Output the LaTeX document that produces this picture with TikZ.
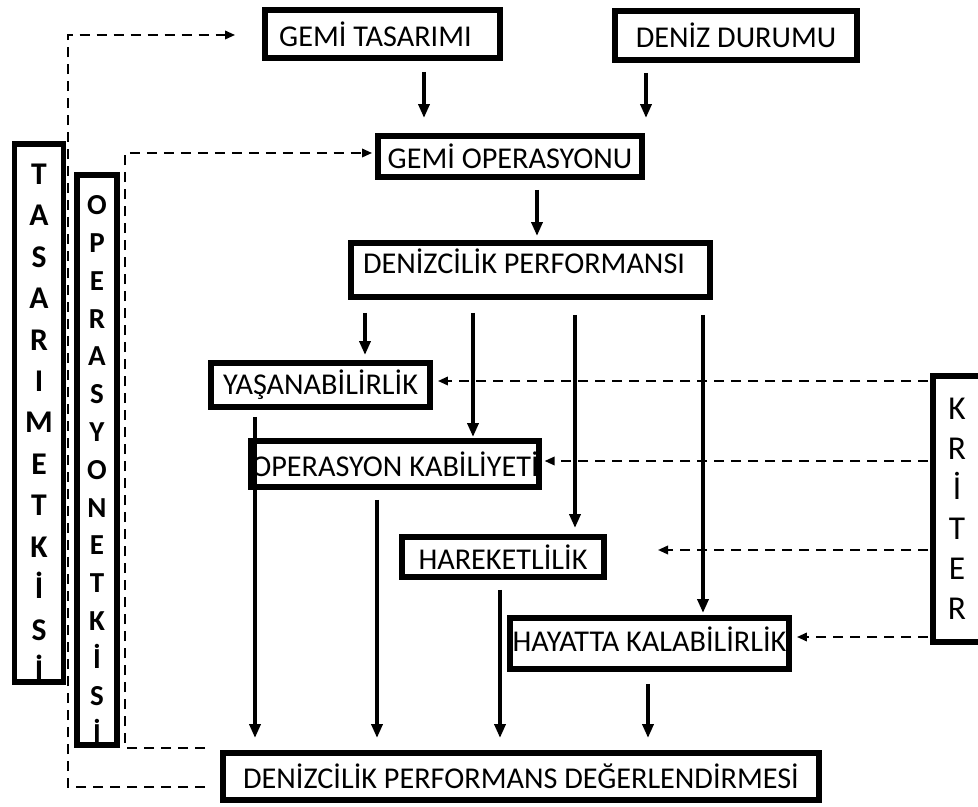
\documentclass[tikz,border=0pt]{standalone}
\usepackage{fontspec}
\setmainfont{Carlito}
\usetikzlibrary{arrows.meta}
\begin{document}
\begin{tikzpicture}[x=0.02cm,y=-0.02cm,
  box/.style={draw, line width=3.4pt, inner sep=0pt, font=\fontsize{17.2}{20}\selectfont},
  arr/.style={line width=2.5pt, -{Triangle[length=2.8mm,width=2.2mm]}},
  darr/.style={line width=1.1pt, dash pattern=on 2mm off 1.4mm, -{Triangle[length=2mm,width=1.7mm]}}]
\clip (0,0) rectangle (978,807);
% boxes
\node[box, minimum width=4.7cm, minimum height=0.96cm] (gt) at (382.5,34) {GEMİ TASARIMI\hspace*{2.8mm}};
\node[box, minimum width=4.84cm, minimum height=0.98cm] (dd) at (736,35.5) {DENİZ DURUMU};
\node[box, minimum width=5.28cm, minimum height=0.82cm] (go) at (510,156.5) {GEMİ OPERASYONU};
\node[box, minimum width=7.18cm, minimum height=1.08cm] (dp) at (530.5,270) {\raisebox{3.6mm}{DENİZCİLİK PERFORMANSI}\hspace*{2.6mm}};
\node[box, minimum width=4.38cm, minimum height=0.88cm] (ya) at (320.5,385) {YAŞANABİLİRLİK};
\node[box, minimum width=5.56cm, minimum height=0.92cm] (ok) at (395,464) {OPERASYON KABİLİYETİ};
\node[box, minimum width=4.04cm, minimum height=0.8cm] (ha) at (503,557) {HAREKETLİLİK};
\node[box, minimum width=5.58cm, minimum height=1.02cm] (hk) at (649.5,643.5) {\raisebox{1.8mm}{HAYATTA KALABİLİRLİK}};
\node[box, minimum width=11.92cm, minimum height=0.94cm] (dpd) at (521,776.5) {DENİZCİLİK PERFORMANS DEĞERLENDİRMESİ};
\node[box, minimum width=0.98cm, minimum height=10.68cm, align=center,
      font=\bfseries\fontsize{18}{23.6}\selectfont] (te) at (39,413)
      {T\rule{0pt}{8mm}\\A\\S\\A\\R\\I\\M\\E\\T\\K\\İ\\S\\İ};
\node[box, minimum width=0.8cm, minimum height=11.4cm, align=center,
      font=\bfseries\fontsize{16.5}{21.5}\selectfont] (oe) at (97,460)
      {O\rule{0pt}{7.7mm}\\P\\E\\R\\A\\S\\Y\\O\\N\\E\\T\\K\\İ\\S\\İ};
\node[box, minimum width=0.96cm, minimum height=5.32cm, align=center,
      font=\fontsize{19}{22.8}\selectfont] (kr) at (957,509)
      {K\\R\\İ\\T\\E\\R};
% column coordinates
\coordinate (c1) at (424,0);
\coordinate (c2) at (646,0);
\coordinate (c3) at (537,0);
\coordinate (c4) at (365,0);
\coordinate (c5) at (473,0);
\coordinate (c6) at (575,0);
\coordinate (c7) at (703,0);
\coordinate (c8) at (255,0);
\coordinate (c9) at (377,0);
\coordinate (c10) at (500,0);
\coordinate (c11) at (648,0);
% solid arrows
\draw[arr, shorten <=2.2mm, shorten >=3mm] (gt.south -| c1) -- (go.north -| c1);
\draw[arr, shorten <=2mm, shorten >=3mm] (dd.south -| c2) -- (go.north -| c2);
\draw[arr, shorten <=2mm, shorten >=0.8mm] (go.south -| c3) -- (dp.north -| c3);
\draw[arr, shorten <=2.6mm, shorten >=1mm] (dp.south -| c4) -- (ya.north -| c4);
\draw[arr, shorten <=2.6mm, shorten >=0.2mm] (dp.south -| c5) -- (ok.north -| c5);
\draw[arr, shorten <=3mm, shorten >=1.2mm] (dp.south -| c6) -- (ha.north -| c6);
\draw[arr, shorten <=3mm, shorten >=0.4mm] (dp.south -| c7) -- (hk.north -| c7);
\draw[arr, shorten <=1.4mm, shorten >=2.4mm] (ya.south -| c8) -- (dpd.north -| c8);
\draw[arr, shorten <=2mm, shorten >=2.4mm] (ok.south -| c9) -- (dpd.north -| c9);
\draw[arr, shorten <=2mm, shorten >=2.4mm] (ha.south -| c10) -- (dpd.north -| c10);
\draw[arr, shorten <=2.4mm, shorten >=2.4mm] (hk.south -| c11) -- (dpd.north -| c11);
% criteria arrows
\coordinate (k1) at (0,381);
\coordinate (k2) at (0,461);
\coordinate (k3) at (0,550);
\coordinate (k4) at (0,637);
\coordinate (hfree) at (658,550);
\draw[darr, shorten <=0.4mm, shorten >=1mm] (kr.west |- k1) -- (ya.east |- k1);
\draw[darr, shorten <=0.4mm, shorten >=0.6mm] (kr.west |- k2) -- (ok.east |- k2);
\draw[darr, shorten <=0.4mm] (kr.west |- k3) -- (hfree);
\draw[darr, shorten <=0.4mm, shorten >=1mm] (kr.west |- k4) -- (hk.east |- k4);
% design / operation feedback
\coordinate (tx) at (68,35);
\coordinate (ty) at (0,787);
\coordinate (ox) at (125,153);
\coordinate (oy) at (0,748);
\draw[darr, shorten <=3mm, shorten >=5.4mm] (dpd.west |- ty) -- (tx |- ty) -- (tx) -- (gt.west |- tx);
\draw[darr, shorten <=3mm, shorten >=0.6mm] (dpd.west |- oy) -- (ox |- oy) -- (ox) -- (go.west |- ox);
\end{tikzpicture}
\end{document}
